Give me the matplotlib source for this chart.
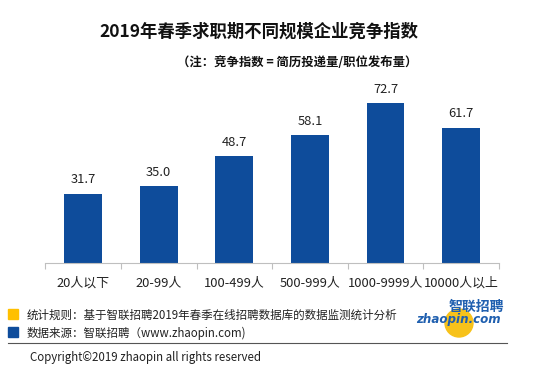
import matplotlib.pyplot as plt
from matplotlib.patches import Rectangle, Ellipse
from matplotlib.lines import Line2D

plt.rcParams['font.family'] = ['Noto Sans CJK SC', 'DejaVu Sans']

# data
categories = ["20人以下", "20-99人", "100-499人", "500-999人", "1000-9999人", "10000人以上"]
values = [31.7, 35.0, 48.7, 58.1, 72.7, 61.7]

BAR_COLOR = "#0E4C9B"
YELLOW = "#FFC000"

W, H = 559, 371
fig = plt.figure(figsize=(W / 100, H / 100), dpi=100)

# axes placed in pixel terms
x0, x1 = 45.3, 499
y_base, y_top = 263.3, 87.3
ax = fig.add_axes([x0 / W, (H - y_base) / H, (x1 - x0) / W, (y_base - y_top) / H])

pos = list(range(len(categories)))
ax.bar(pos, values, width=0.5, color=BAR_COLOR)
for p, v in zip(pos, values):
    ax.text(p, v + 3.3, f"{v:.1f}", ha="center", va="bottom", fontsize=9.3, color="#222222")

ax.set_xlim(-0.5, len(categories) - 0.5)
ax.set_ylim(0, 80)
ax.set_yticks([])
for s in ["top", "right", "left"]:
    ax.spines[s].set_visible(False)
ax.spines["bottom"].set_color("#BFBFBF")
ax.set_xticks([p - 0.5 for p in pos] + [len(categories) - 0.5])
ax.set_xticklabels([])
ax.tick_params(axis="x", length=4, color="#BFBFBF")
for p, c in zip(pos, categories):
    ax.text(p, -9, c, ha="center", va="center", fontsize=9.3, color="#222222")

# titles
fig.text(259 / W, 1 - 32 / H, "2019年春季求职期不同规模企业竞争指数", ha="center", va="center",
         fontsize=12.5, fontweight="bold", color="#111111")
fig.text(297 / W, 1 - 62 / H, "（注：竞争指数 = 简历投递量/职位发布量）", ha="center", va="center",
         fontsize=8.9, fontweight="bold", color="#111111")

# legend notes
fig.patches.append(Rectangle((8 / W, 1 - 319 / H), 10 / W, 10 / H, transform=fig.transFigure,
                             color=YELLOW))
fig.patches.append(Rectangle((8 / W, 1 - 337 / H), 10 / W, 10 / H, transform=fig.transFigure,
                             color=BAR_COLOR))
fig.text(27 / W, 1 - 315 / H, "统计规则：基于智联招聘2019年春季在线招聘数据库的数据监测统计分析",
         ha="left", va="center", fontsize=8.3, color="#222222")
fig.text(27 / W, 1 - 333 / H, "数据来源：智联招聘（www.zhaopin.com)",
         ha="left", va="center", fontsize=8.3, color="#222222")
fig.lines.append(Line2D([8 / W, 507 / W], [1 - 343 / H, 1 - 343 / H], transform=fig.transFigure,
                        color="#555555", lw=0.8))
fig.text(30 / W, 1 - 357 / H, "Copyright©2019 zhaopin all rights reserved",
         ha="left", va="center", fontsize=8.3, color="#222222")

# logo
fig.patches.append(Ellipse((459 / W, 1 - 323 / H), 28 / W, 28 / H, transform=fig.transFigure,
                           color="#F7C21A", zorder=0))
fig.text(476 / W, 1 - 307 / H, "智联招聘", ha="center", va="center", fontsize=10,
         fontweight="bold", color="#1F5FAF", style="italic")
fig.text(458 / W, 1 - 319 / H, "zhaopin.com", ha="center", va="center", fontsize=8.6,
         fontweight="bold", color="#1F5FAF", style="italic", family="DejaVu Sans")

fig.savefig("out.png", dpi=100)
